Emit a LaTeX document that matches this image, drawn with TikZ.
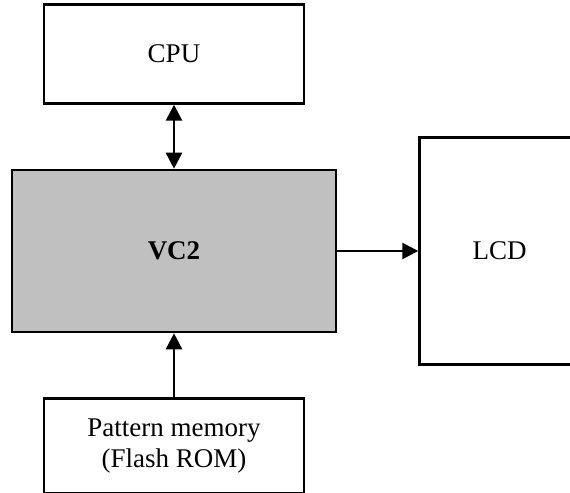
\documentclass[tikz,border=0pt]{standalone}
\usepackage{fontspec}
\setmainfont{Liberation Serif}
\usetikzlibrary{arrows.meta, positioning}
\definecolor{chipgray}{RGB}{192,192,192}

\begin{document}
\begin{tikzpicture}[
    x=0.5pt, y=-0.5pt,
    node distance=32pt,
    block/.style={rectangle, draw=black, line width=1.3pt, fill=white, align=center, inner sep=0pt, font=\fontsize{13.5}{15.5}\selectfont},
    arr/.style={-{Triangle[length=8pt, width=8pt]}, line width=1.3pt},
    darr/.style={{Triangle[length=8pt, width=8pt]}-{Triangle[length=8pt, width=8pt]}, line width=1.3pt},
]
\useasboundingbox (0,0) rectangle (570,493);

% Blocks
\node[block, fill=chipgray, minimum width=162pt, minimum height=81pt, font=\fontsize{13.5}{15.5}\selectfont\bfseries] (vc2) at (174,251) {VC2};
\node[block, minimum width=130pt, minimum height=49.5pt, above=of vc2] (cpu) {CPU};
\node[block, minimum width=130pt, minimum height=47.5pt, below=of vc2] (pmem) {Pattern memory\\(Flash ROM)};
\node[block, minimum width=80pt, minimum height=113.5pt, right=40.5pt of vc2] (lcd) {LCD};

% Arrows
\draw[darr] (cpu) -- (vc2);
\draw[arr] (vc2) -- (lcd);
\draw[arr] (pmem) -- (vc2);
\end{tikzpicture}
\end{document}
